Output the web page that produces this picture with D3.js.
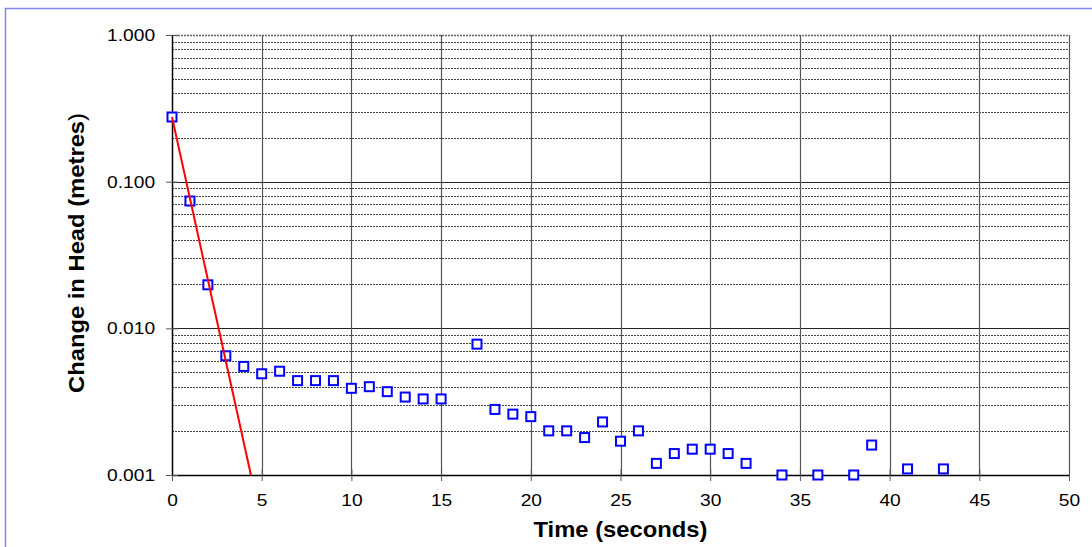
<!DOCTYPE html>
<html>
<head>
<meta charset="utf-8">
<script src="https://cdn.jsdelivr.net/npm/d3@7"></script>
<style>
  html, body { margin: 0; padding: 0; background: #fff; }
  svg { display: block; font-family: "Liberation Sans", Arial, sans-serif; }
</style>
</head>
<body>
<svg id="chart" width="1092" height="547"></svg>
<script>
// Slug test: head change over time
const timeSeconds = [0, 1, 2, 3, 4, 5, 6, 7, 8, 9, 10, 11, 12, 13, 14, 15, 17, 18, 19, 20,
  21, 22, 23, 24, 25, 26, 27, 28, 29, 30, 31, 32, 34, 36, 38, 39, 41, 43];
const headChange = [0.276, 0.0738, 0.0198, 0.0065, 0.0055, 0.0049, 0.0051, 0.0044, 0.0044, 0.0044,
  0.0039, 0.0040, 0.0037, 0.0034, 0.0033, 0.0033, 0.0078, 0.0028, 0.0026, 0.0025,
  0.0020, 0.0020, 0.0018, 0.0023, 0.0017, 0.0020, 0.0012, 0.0014, 0.0015, 0.0015,
  0.0014, 0.0012, 0.0010, 0.0010, 0.0010, 0.0016, 0.0011, 0.0011];

// Fitted early-time decay line (endpoints)
const fitTime = [0, 4.4];
const fitHead = [0.276, 0.001];

const xTicks = [0, 5, 10, 15, 20, 25, 30, 35, 40, 45, 50];
const yTicks = [0.001, 0.01, 0.1, 1];
const yTickLabels = ["0.001", "0.010", "0.100", "1.000"];

const svg = d3.select("#chart");
const plot = { left: 172, right: 1069, top: 35, bottom: 475 };

const x = d3.scaleLinear().domain([0, 50]).range([plot.left, plot.right]);
const y = d3.scaleLog().domain([0.001, 1]).range([plot.bottom, plot.top]);

// Outer chart frame
svg.append("rect")
  .attr("x", 5.5).attr("y", 8.5)
  .attr("width", 1200).attr("height", 700)
  .attr("fill", "none")
  .attr("stroke", "#8484f6")
  .attr("stroke-width", 1.5);

// Minor horizontal gridlines (2..9 within each decade)
const minor = [];
[0.001, 0.01, 0.1].forEach(d => {
  for (let k = 2; k <= 9; k++) minor.push(d * k);
});
svg.append("g").selectAll("line").data(minor).join("line")
  .attr("x1", plot.left).attr("x2", plot.right)
  .attr("y1", d => Math.round(y(d)) + 0.5).attr("y2", d => Math.round(y(d)) + 0.5)
  .attr("stroke", "#444")
  .attr("stroke-width", 1)
  .attr("stroke-dasharray", "2,1");

// Major horizontal gridlines
svg.append("g").selectAll("line").data([0.01, 0.1]).join("line")
  .attr("x1", plot.left).attr("x2", plot.right)
  .attr("y1", d => Math.round(y(d)) + 0.5).attr("y2", d => Math.round(y(d)) + 0.5)
  .attr("stroke", "#222").attr("stroke-width", 1);
svg.append("line")
  .attr("x1", plot.left).attr("x2", plot.right)
  .attr("y1", y(1) + 0.5).attr("y2", y(1) + 0.5)
  .attr("stroke", "#666").attr("stroke-width", 1.5)
  .attr("stroke-dasharray", "2,1");

// Vertical gridlines
svg.append("g").selectAll("line").data(xTicks.slice(1)).join("line")
  .attr("x1", d => Math.round(x(d)) + 0.5).attr("x2", d => Math.round(x(d)) + 0.5)
  .attr("y1", plot.top).attr("y2", plot.bottom)
  .attr("stroke", "#555").attr("stroke-width", 1.2);

// Axes
const labelFont = "Liberation Sans, Arial, sans-serif";
const xAxis = d3.axisBottom(x).tickValues(xTicks).tickSizeInner(6).tickSizeOuter(0).tickPadding(13);
const gx = svg.append("g").attr("transform", `translate(0,${plot.bottom})`).call(xAxis);
gx.select(".domain").attr("stroke", "#000").attr("stroke-width", 1.5);
gx.selectAll(".tick line").attr("stroke", "#555").attr("y1", -6);
gx.selectAll(".tick text").attr("font-size", 17).attr("fill", "#000")
  .attr("font-family", labelFont)
  .attr("transform", "scale(1.13,1)");

const yAxis = d3.axisLeft(y).tickValues(yTicks)
  .tickFormat((d, i) => yTickLabels[i]).tickSizeInner(6).tickSizeOuter(0).tickPadding(9);
const gy = svg.append("g").attr("transform", `translate(${plot.left},0)`).call(yAxis);
gy.select(".domain").attr("stroke", "#000").attr("stroke-width", 1.5);
gy.selectAll(".tick line").attr("stroke", "#555").attr("x1", 6);
gy.selectAll(".tick text").attr("font-size", 17).attr("fill", "#000")
  .attr("font-family", labelFont)
  .attr("transform", "scale(1.13,1)");

// Observed points
const pts = timeSeconds.map((t, i) => [t, headChange[i]]);
const s = 9;
svg.append("g").selectAll("rect").data(pts).join("rect")
  .attr("x", d => x(d[0]) - s / 2)
  .attr("y", d => y(d[1]) - s / 2)
  .attr("width", s).attr("height", s)
  .attr("fill", "#fff")
  .attr("stroke", "#0000ff")
  .attr("stroke-width", 2);

// Fitted line
const fitData = fitTime.map((t, i) => [t, fitHead[i]]);
svg.append("path")
  .datum(fitData)
  .attr("d", d3.line().x(d => x(d[0])).y(d => y(d[1])))
  .attr("fill", "none")
  .attr("stroke", "#ff0000")
  .attr("stroke-width", 2);

// Axis titles
svg.append("text")
  .attr("x", (plot.left + plot.right) / 2)
  .attr("y", 537)
  .attr("text-anchor", "middle")
  .attr("font-size", 22)
  .attr("font-weight", "bold")
  .attr("textLength", 174)
  .attr("lengthAdjust", "spacingAndGlyphs")
  .text("Time (seconds)");

const yt = svg.append("text")
  .attr("transform", `translate(84,253) rotate(-90)`)
  .attr("text-anchor", "middle")
  .attr("font-size", 22)
  .attr("font-weight", "bold")
  .attr("textLength", 280)
  .attr("lengthAdjust", "spacingAndGlyphs");
yt.append("tspan").text("Change in Head (metres");
yt.append("tspan").attr("font-weight", "normal").text(")");
</script>
</body>
</html>
